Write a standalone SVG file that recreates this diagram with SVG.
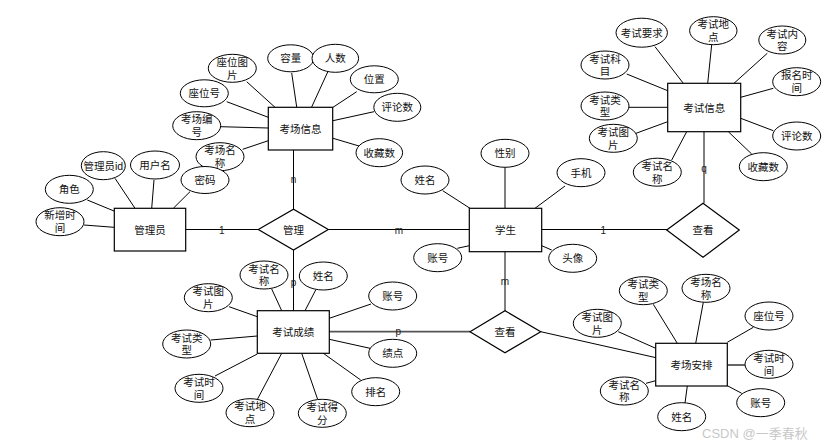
<svg xmlns="http://www.w3.org/2000/svg" width="830" height="448" viewBox="0 0 830 448">
<style>
.r{fill:#fff;stroke:#000;stroke-width:1.2}
.e{fill:#fff;stroke:#000;stroke-width:1}
.c line{stroke:#000;stroke-width:1}
.c line.g{stroke:#555;stroke-width:1.8}
text{font-family:"Liberation Sans","Noto Sans CJK SC",sans-serif;font-size:10.5px;fill:#111;text-anchor:middle;dominant-baseline:central}
.l{font-size:10px;fill:#222}
.w{font-size:13px;fill:#c8c8c8;text-anchor:start}
</style>
<rect width="830" height="448" fill="#fff"/>
<g class="c" id="connectors">
<!-- relationships -->
<line x1="186" y1="229.5" x2="258" y2="229.5"/>
<line x1="328" y1="229.5" x2="469" y2="229.5"/>
<line x1="542" y1="229.5" x2="667" y2="229.5"/>
<line x1="293.5" y1="150" x2="293.5" y2="209"/>
<line x1="293.5" y1="250" x2="293.5" y2="311"/>
<line x1="704" y1="132" x2="704" y2="203"/>
<line x1="505" y1="252" x2="505" y2="311"/>
<line class="g" x1="329" y1="331.7" x2="470" y2="331.7"/>
<line x1="540.7" y1="331.7" x2="656" y2="357.7"/>
<!-- 考场信息 -->
<line x1="291.7" y1="73" x2="296.7" y2="107"/>
<line x1="327.7" y1="72" x2="311.7" y2="107"/>
<line x1="356.7" y1="91.7" x2="333" y2="107.3"/>
<line x1="374" y1="111.7" x2="333" y2="120.7"/>
<line x1="359" y1="146" x2="333" y2="138.3"/>
<line x1="246.7" y1="81.7" x2="275" y2="107.3"/>
<line x1="226.7" y1="101.7" x2="268.3" y2="117.3"/>
<line x1="220.7" y1="126.7" x2="268.3" y2="128"/>
<line x1="242.7" y1="149.3" x2="268.3" y2="140.7"/>
<!-- 管理员 -->
<line x1="115" y1="178.3" x2="135" y2="208.3"/>
<line x1="154" y1="180" x2="151.7" y2="208.3"/>
<line x1="87.3" y1="200" x2="114" y2="211"/>
<line x1="84" y1="225" x2="114" y2="227.3"/>
<line x1="190" y1="191.7" x2="173.3" y2="208.3"/>
<!-- 学生 -->
<line x1="505" y1="167.3" x2="505" y2="208.3"/>
<line x1="442.7" y1="190.7" x2="470" y2="208.3"/>
<line x1="565" y1="186" x2="535" y2="208.3"/>
<line x1="457.3" y1="248.3" x2="469.3" y2="245.7"/>
<line x1="551.7" y1="250" x2="541.7" y2="245.7"/>
<!-- 考试信息 -->
<line x1="655" y1="46.7" x2="683.3" y2="83.3"/>
<line x1="711.7" y1="44.7" x2="707.7" y2="83.3"/>
<line x1="767.3" y1="53.3" x2="734" y2="83.3"/>
<line x1="773.3" y1="88.3" x2="740.7" y2="97.3"/>
<line x1="773.3" y1="130.7" x2="740.7" y2="118.3"/>
<line x1="751.7" y1="154" x2="728.3" y2="131.7"/>
<line x1="671.7" y1="160" x2="686.7" y2="131.7"/>
<line x1="636" y1="133.3" x2="667.7" y2="121.7"/>
<line x1="629" y1="107.3" x2="667.7" y2="107.3"/>
<line x1="626.7" y1="74" x2="667.7" y2="90.7"/>
<!-- 考试成绩 -->
<line x1="271.7" y1="289" x2="281.7" y2="310.7"/>
<line x1="315.7" y1="290" x2="305" y2="310.7"/>
<line x1="371" y1="304" x2="329.3" y2="318.3"/>
<line x1="370" y1="348.3" x2="329.3" y2="339.3"/>
<line x1="360.7" y1="380" x2="323.3" y2="353.3"/>
<line x1="317.7" y1="399.5" x2="301.7" y2="353.3"/>
<line x1="257.3" y1="399.5" x2="281.7" y2="353.3"/>
<line x1="215" y1="376" x2="257.3" y2="354"/>
<line x1="210.7" y1="340" x2="257.3" y2="336"/>
<line x1="229" y1="306.7" x2="257.3" y2="316.7"/>
<!-- 考场安排 -->
<line x1="653.3" y1="304.3" x2="677.3" y2="343.3"/>
<line x1="703.3" y1="302.3" x2="695.7" y2="343.3"/>
<line x1="753.3" y1="327.3" x2="727.3" y2="342.3"/>
<line class="g" x1="745.7" y1="365" x2="727.3" y2="365"/>
<line x1="741.7" y1="393.3" x2="727.3" y2="385.7"/>
<line x1="685" y1="403" x2="687.3" y2="386"/>
<line x1="646" y1="383.3" x2="655.7" y2="380.7"/>
<line x1="618.3" y1="331.7" x2="655.7" y2="348.3"/>
<!-- cardinality labels -->
<text class="l" x="221.7" y="230">1</text>
<text class="l" x="399" y="230">m</text>
<text class="l" x="603.3" y="230">1</text>
<text class="l" x="293.5" y="179">n</text>
<text class="l" x="293.5" y="282">p</text>
<text class="l" x="704" y="168">q</text>
<text class="l" x="505" y="281">m</text>
<text class="l" x="398.3" y="331">p</text>
</g>

<!-- entities -->
<g id="kaochangxinxi"><rect class="r" x="268.3" y="107.3" width="64.4" height="42.7"/><text x="300.5" y="128.7">考场信息</text></g>
<g id="guanliyuan"><rect class="r" x="114.3" y="208.3" width="71.4" height="42.7"/><text x="150" y="229.7">管理员</text></g>
<g id="xuesheng"><rect class="r" x="469.3" y="208.3" width="72.4" height="43.4"/><text x="505.5" y="230">学生</text></g>
<g id="kaoshixinxi"><rect class="r" x="667.7" y="83.3" width="73" height="48.4"/><text x="704.2" y="107.5">考试信息</text></g>
<g id="kaoshichengji"><rect class="r" x="257.3" y="310.7" width="72" height="42.6"/><text x="293.3" y="332">考试成绩</text></g>
<g id="kaochanganpai"><rect class="r" x="655.7" y="343.3" width="71.6" height="42.7"/><text x="691.5" y="364.7">考场安排</text></g>

<!-- relationships -->
<g id="guanli"><polygon class="r" points="258.3,229.5 293.5,209.3 328.3,229.5 293.5,250"/><text x="293.5" y="229.7">管理</text></g>
<g id="chakan1"><polygon class="r" points="666.7,230 703,203.3 739.3,230 703,257.3"/><text x="703" y="230">查看</text></g>
<g id="chakan2"><polygon class="r" points="470,331.7 505,310.7 540.7,331.7 505,352.7"/><text x="505" y="331.7">查看</text></g>

<!-- 考场信息 attributes -->
<g id="a-kc-rongliang"><ellipse class="e" cx="290.7" cy="58.3" rx="23" ry="13.5"/><text x="290.7" y="58.3">容量</text></g>
<g id="a-kc-renshu"><ellipse class="e" cx="335.3" cy="58.3" rx="23.3" ry="14"/><text x="335.3" y="58.3">人数</text></g>
<g id="a-kc-weizhi"><ellipse class="e" cx="374.3" cy="79.3" rx="24" ry="13.5"/><text x="374.3" y="79.3">位置</text></g>
<g id="a-kc-pinglun"><ellipse class="e" cx="397.3" cy="107.3" rx="23.5" ry="14"/><text x="397.3" y="107.3">评论数</text></g>
<g id="a-kc-shoucang"><ellipse class="e" cx="379.3" cy="152.7" rx="23.3" ry="14"/><text x="379.3" y="152.7">收藏数</text></g>
<g id="a-kc-zuoweitupian"><ellipse class="e" cx="232.3" cy="68.3" rx="24" ry="14"/><text x="232.3" y="62">座位图</text><text x="232.3" y="74.8">片</text></g>
<g id="a-kc-zuoweihao"><ellipse class="e" cx="204.3" cy="93.3" rx="24" ry="13.5"/><text x="204.3" y="93.3">座位号</text></g>
<g id="a-kc-bianhao"><ellipse class="e" cx="196.7" cy="125.7" rx="24" ry="14"/><text x="196.7" y="119.3">考场编</text><text x="196.7" y="132">号</text></g>
<g id="a-kc-mingcheng"><ellipse class="e" cx="220" cy="156.7" rx="24" ry="14"/><text x="220" y="150.3">考场名</text><text x="220" y="163">称</text></g>

<!-- 管理员 attributes -->
<g id="a-gl-mima"><ellipse class="e" cx="205" cy="180" rx="24" ry="13.5"/><text x="205" y="180">密码</text></g>
<g id="a-gl-id"><ellipse class="e" cx="103.3" cy="165.7" rx="22" ry="14"/><text x="103.3" y="165.7">管理员id</text></g>
<g id="a-gl-yonghuming"><ellipse class="e" cx="155" cy="165" rx="24.5" ry="14"/><text x="155" y="165">用户名</text></g>
<g id="a-gl-juese"><ellipse class="e" cx="69.3" cy="189.3" rx="24" ry="14"/><text x="69.3" y="189.3">角色</text></g>
<g id="a-gl-xinzeng"><ellipse class="e" cx="60" cy="221.7" rx="24" ry="14"/><text x="60" y="215.3">新增时</text><text x="60" y="228">间</text></g>

<!-- 学生 attributes -->
<g id="a-xs-xingbie"><ellipse class="e" cx="505" cy="153.3" rx="24" ry="14"/><text x="505" y="153.3">性别</text></g>
<g id="a-xs-xingming"><ellipse class="e" cx="425" cy="180" rx="24" ry="14"/><text x="425" y="180">姓名</text></g>
<g id="a-xs-shouji"><ellipse class="e" cx="581" cy="172.7" rx="24" ry="14"/><text x="581" y="172.7">手机</text></g>
<g id="a-xs-zhanghao"><ellipse class="e" cx="437.7" cy="257.7" rx="24" ry="14"/><text x="437.7" y="257.7">账号</text></g>
<g id="a-xs-touxiang"><ellipse class="e" cx="572.7" cy="258.3" rx="24" ry="14"/><text x="572.7" y="258.3">头像</text></g>

<!-- 考试信息 attributes -->
<g id="a-ks-yaoqiu"><ellipse class="e" cx="641.7" cy="32.7" rx="25.7" ry="14.5"/><text x="641.7" y="32.7">考试要求</text></g>
<g id="a-ks-didian"><ellipse class="e" cx="713.3" cy="30.7" rx="23.7" ry="14"/><text x="713.3" y="24.3">考试地</text><text x="713.3" y="37">点</text></g>
<g id="a-ks-neirong"><ellipse class="e" cx="782.3" cy="40" rx="23.5" ry="14"/><text x="782.3" y="33.7">考试内</text><text x="782.3" y="46.4">容</text></g>
<g id="a-ks-baoming"><ellipse class="e" cx="796.7" cy="81.7" rx="24" ry="14"/><text x="796.7" y="75.4">报名时</text><text x="796.7" y="88">间</text></g>
<g id="a-ks-pinglun"><ellipse class="e" cx="796.7" cy="136" rx="24" ry="14"/><text x="796.7" y="136">评论数</text></g>
<g id="a-ks-shoucang"><ellipse class="e" cx="763.3" cy="166.7" rx="24" ry="14"/><text x="763.3" y="166.7">收藏数</text></g>
<g id="a-ks-mingcheng"><ellipse class="e" cx="657.3" cy="172.2" rx="24" ry="14"/><text x="657.3" y="165.9">考试名</text><text x="657.3" y="178.6">称</text></g>
<g id="a-ks-tupian"><ellipse class="e" cx="613.3" cy="138.3" rx="24" ry="14"/><text x="613.3" y="132">考试图</text><text x="613.3" y="144.7">片</text></g>
<g id="a-ks-leixing"><ellipse class="e" cx="605" cy="106" rx="24" ry="14"/><text x="605" y="99.7">考试类</text><text x="605" y="112.4">型</text></g>
<g id="a-ks-kemu"><ellipse class="e" cx="605" cy="65" rx="24" ry="14"/><text x="605" y="58.7">考试科</text><text x="605" y="71.4">目</text></g>

<!-- 考试成绩 attributes -->
<g id="a-cj-mingcheng"><ellipse class="e" cx="264" cy="275" rx="24" ry="14"/><text x="264" y="268.7">考试名</text><text x="264" y="281.4">称</text></g>
<g id="a-cj-xingming"><ellipse class="e" cx="323.3" cy="276" rx="24" ry="14"/><text x="323.3" y="276">姓名</text></g>
<g id="a-cj-zhanghao"><ellipse class="e" cx="392.7" cy="296" rx="24" ry="14"/><text x="392.7" y="296">账号</text></g>
<g id="a-cj-jidian"><ellipse class="e" cx="392.7" cy="353.3" rx="24" ry="14"/><text x="392.7" y="353.3">绩点</text></g>
<g id="a-cj-paiming"><ellipse class="e" cx="375.7" cy="391.7" rx="24" ry="14"/><text x="375.7" y="391.7">排名</text></g>
<g id="a-cj-defen"><ellipse class="e" cx="322.3" cy="413.3" rx="24" ry="14"/><text x="322.3" y="407">考试得</text><text x="322.3" y="419.7">分</text></g>
<g id="a-cj-didian"><ellipse class="e" cx="250" cy="412.7" rx="24" ry="14"/><text x="250" y="406.4">考试地</text><text x="250" y="419.1">点</text></g>
<g id="a-cj-shijian"><ellipse class="e" cx="199" cy="388.3" rx="24" ry="14"/><text x="199" y="382">考试时</text><text x="199" y="394.7">间</text></g>
<g id="a-cj-leixing"><ellipse class="e" cx="186.7" cy="344" rx="24" ry="14"/><text x="186.7" y="337.7">考试类</text><text x="186.7" y="350.4">型</text></g>
<g id="a-cj-tupian"><ellipse class="e" cx="208.3" cy="297.7" rx="24" ry="14"/><text x="208.3" y="291.4">考试图</text><text x="208.3" y="304.1">片</text></g>

<!-- 考场安排 attributes -->
<g id="a-ap-leixing"><ellipse class="e" cx="643.3" cy="290.7" rx="24" ry="14"/><text x="643.3" y="284.4">考试类</text><text x="643.3" y="297.1">型</text></g>
<g id="a-ap-kcmingcheng"><ellipse class="e" cx="706" cy="288.3" rx="24" ry="14"/><text x="706" y="282">考场名</text><text x="706" y="294.7">称</text></g>
<g id="a-ap-zuoweihao"><ellipse class="e" cx="769" cy="316" rx="24" ry="14"/><text x="769" y="316">座位号</text></g>
<g id="a-ap-shijian"><ellipse class="e" cx="769" cy="364.3" rx="24" ry="14"/><text x="769" y="358">考试时</text><text x="769" y="370.7">间</text></g>
<g id="a-ap-zhanghao"><ellipse class="e" cx="760.7" cy="402.7" rx="24" ry="14"/><text x="760.7" y="402.7">账号</text></g>
<g id="a-ap-xingming"><ellipse class="e" cx="681.7" cy="416.7" rx="24" ry="14"/><text x="681.7" y="416.7">姓名</text></g>
<g id="a-ap-mingcheng"><ellipse class="e" cx="624.3" cy="391" rx="24" ry="14"/><text x="624.3" y="384.7">考试名</text><text x="624.3" y="397.4">称</text></g>
<g id="a-ap-tupian"><ellipse class="e" cx="597.3" cy="323.3" rx="24" ry="14"/><text x="597.3" y="317">考试图</text><text x="597.3" y="329.7">片</text></g>

<text class="w" x="702" y="433">CSDN @一季春秋</text>
</svg>
